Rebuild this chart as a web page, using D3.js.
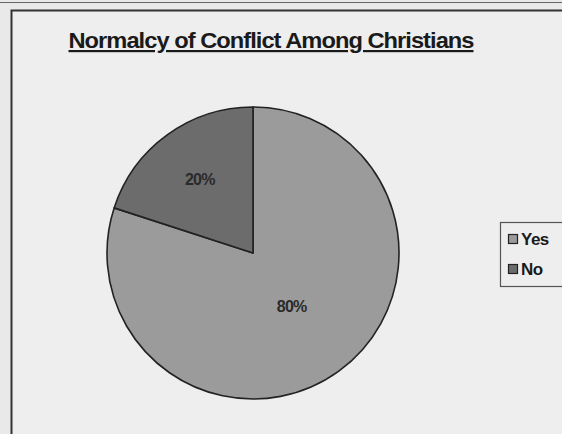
<!DOCTYPE html>
<html>
<head>
<meta charset="utf-8">
<script src="https://cdn.jsdelivr.net/npm/d3@7"></script>
<style>
  html, body { margin: 0; padding: 0; background: #ececec; }
  svg { display: block; font-family: "Liberation Sans", Arial, sans-serif; }
</style>
</head>
<body>
<svg id="chart" width="562" height="434"></svg>
<script>
// Chart data
const categories = ["Yes", "No"];
const percents = [80, 20];
const title = "Normalcy of Conflict Among Christians";

const W = 562, H = 434;
const COLORS = ["#9b9b9b", "#6c6c6c"];
// how far out the percentage label sits, as a share of the radius
const LABEL_POS = { Yes: 0.45, No: 0.62 };

const svg = d3.select("#chart");

// scanned page background + chart frame
svg.append("rect").attr("width", W).attr("height", H).attr("fill", "#e9e9e9");
svg.append("line")
  .attr("x1", 0).attr("x2", W).attr("y1", 2.5).attr("y2", 2.5)
  .attr("stroke", "#666").attr("stroke-width", 1);
svg.append("rect")
  .attr("x", 11.5).attr("y", 10.5)
  .attr("width", W + 20).attr("height", H + 20)
  .attr("fill", "#eeeeee")
  .attr("stroke", "#333").attr("stroke-width", 2);

// title, bold + underlined
svg.append("text")
  .attr("x", 271).attr("y", 48)
  .attr("text-anchor", "middle")
  .attr("font-size", 22).attr("font-weight", "bold")
  .attr("letter-spacing", -0.9)
  .attr("text-decoration", "underline")
  .attr("fill", "#1a1a1a")
  .attr("textLength", 405).attr("lengthAdjust", "spacingAndGlyphs")
  .text(title);

const data = categories.map((c, i) => ({ key: c, value: percents[i] }));
const color = d3.scaleOrdinal().domain(categories).range(COLORS);

const cx = 253, cy = 253, r = 146;

const pie = d3.pie().sort(null).value((d) => d.value);
const arc = d3.arc().innerRadius(0).outerRadius(r);

const g = svg.append("g").attr("transform", `translate(${cx},${cy})`);
const arcs = pie(data);

g.selectAll("path")
  .data(arcs)
  .join("path")
  .attr("d", arc)
  .attr("fill", (d) => color(d.data.key))
  .attr("stroke", "#222")
  .attr("stroke-width", 1.6)
  .attr("stroke-linejoin", "round");

g.selectAll("text.label")
  .data(arcs)
  .join("text")
  .attr("class", "label")
  .attr("transform", (d) => {
    const rr = r * LABEL_POS[d.data.key];
    const a = (d.startAngle + d.endAngle) / 2;
    return `translate(${Math.sin(a) * rr},${-Math.cos(a) * rr})`;
  })
  .attr("text-anchor", "middle")
  .attr("dy", "0.35em")
  .attr("font-size", 16)
  .attr("font-weight", "bold")
  .attr("letter-spacing", -0.8)
  .attr("fill", "#2a2a2a")
  .text((d) => d.data.value + "%");

// legend
const leg = svg.append("g").attr("transform", "translate(500,222)");
leg.append("rect")
  .attr("x", 0.5).attr("y", 0.5).attr("width", 80).attr("height", 64)
  .attr("fill", "#eeeeee").attr("stroke", "#555").attr("stroke-width", 1.2);

const item = leg.selectAll("g.item")
  .data(categories)
  .join("g")
  .attr("class", "item")
  .attr("transform", (d, i) => `translate(8,${17 + i * 30})`);

item.append("rect")
  .attr("x", 0.5).attr("y", -4.5).attr("width", 9).attr("height", 9)
  .attr("fill", (d) => color(d))
  .attr("stroke", "#222").attr("stroke-width", 1.2);

item.append("text")
  .attr("x", 13).attr("dy", "0.36em")
  .attr("font-size", 17)
  .attr("font-weight", "bold")
  .attr("letter-spacing", -0.5)
  .attr("fill", "#1a1a1a")
  .text((d) => d);
</script>
</body>
</html>
